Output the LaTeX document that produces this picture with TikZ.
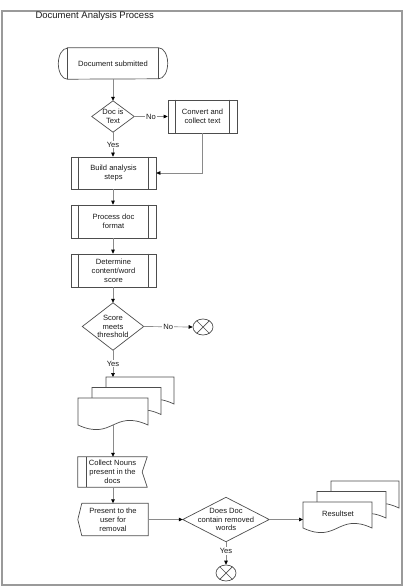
\documentclass[tikz,border=0pt]{standalone}
\usepackage{fontspec}
\setmainfont{Liberation Sans}
\usetikzlibrary{arrows.meta,shapes.geometric}
\definecolor{shapegray}{HTML}{4D4D4D}
\definecolor{linegray}{HTML}{8A8A8A}
\definecolor{framegray}{HTML}{9A9A9A}
\definecolor{inkgray}{HTML}{1A1A1A}
% one sheet of a document stack: left x, right x, top y, bottom y of the wave ends
\newcommand\docsheet[4]{%
  \draw[shape line, fill=white] (#1,#3) -- (#2,#3) -- (#2,#4)
    .. controls ({#2-0.5*(#2-#1)},{#4-16}) and ({#1+0.5*(#2-#1)},{#4+16}) .. (#1,#4) -- cycle;}
\begin{document}
\begin{tikzpicture}[x=1pt,y=-1pt,
  font=\fontsize{7.6}{8.8}\selectfont, text=inkgray,
  shape line/.style={draw=shapegray, line width=0.7pt},
  plain/.style={rectangle, inner sep=0pt, align=center},
  boxnode/.style={plain, shape line, minimum width=85pt, minimum height=33pt},
  flow/.style={draw=linegray, line width=0.7pt, -{Triangle[length=4pt,width=3.6pt,color=black]}},
  lbl/.style={fill=white, inner sep=1pt},
  stopmark/.style={ellipse, shape line, minimum width=20pt, minimum height=16pt, inner sep=0pt},
]
\useasboundingbox (0,0) rectangle (407,588);
\draw[draw=framegray, line width=1.2pt] (2,11) rectangle (402,585);

\node[anchor=west, font=\fontsize{9.5}{11}\selectfont] (title) at (32,16) {Document Analysis Process};

% start terminal with bowed ends
\node[plain, minimum width=91pt, minimum height=31pt] (start) at (113,63.5) {Document submitted};
\draw[shape line] (start.north west) -- (start.north east)
  arc[start angle=90, end angle=-90, x radius=9pt, y radius=15.5pt]
  -- (start.south west)
  arc[start angle=270, end angle=90, x radius=9pt, y radius=15.5pt] -- cycle;
\draw[shape line] (start.north west) -- (start.south west) (start.north east) -- (start.south east);

% decisions (drawn as diamonds over plain boxes)
\node[plain, minimum width=42pt, minimum height=31pt] (isText) at (113,116.5) {Doc is\\Text};
\node[plain, minimum width=61pt, minimum height=47pt] (scoreOk) at (113,326.5) {Score\\meets\\threshold};
\node[plain, minimum width=86pt, minimum height=44pt] (hasRemoved) at (226,519.5) {Does Doc\\contain removed\\words};
\foreach \n in {isText,scoreOk,hasRemoved}
  \draw[shape line] (\n.north) -- (\n.east) -- (\n.south) -- (\n.west) -- cycle;

% predefined processes
\node[boxnode, minimum width=69pt] (convert) at (202.5,116.5) {Convert and\\collect text};
\node[boxnode, minimum height=32pt] (build) at (113.5,173) {Build analysis\\steps};
\node[boxnode] (process) at (113.5,221.5) {Process doc\\format};
\node[boxnode] (determine) at (113.5,270.5) {Determine\\content/word\\score};
\foreach \n in {convert,build,process,determine}
  \draw[shape line] ([xshift=8pt]\n.north west) -- ([xshift=8pt]\n.south west)
                    ([xshift=-8pt]\n.north east) -- ([xshift=-8pt]\n.south east);

% terminators
\node[stopmark] (end1) at (203,327) {};
\node[stopmark] (end2) at (226,573) {};
\foreach \n in {end1,end2}
  \draw[shape line] (\n.45) -- (\n.225) (\n.135) -- (\n.315);

% document stack
\docsheet{106}{174}{377}{404}
\docsheet{92}{161}{387.5}{414.5}
\docsheet{78}{148}{398}{425}
\coordinate (docsTop) at (113,377);
\coordinate (docsBottom) at (113,425);

% collect nouns
\node[plain, minimum width=69pt, minimum height=30pt] (collect) at (112.5,472) {Collect Nouns\\present in the\\docs};
\draw[shape line] (collect.north west) -- (collect.north east) -- ([xshift=-5pt]collect.east)
  -- (collect.south east) -- (collect.south west) -- cycle;
\draw[shape line] ([xshift=9pt]collect.north west) -- ([xshift=9pt]collect.south west);

% display
\node[plain, minimum width=70pt, minimum height=32pt] (present) at (113,519.5) {Present to the\\user for\\removal};
\draw[shape line] ([xshift=4pt]present.north west) -- (present.north east) -- (present.south east)
  -- ([xshift=4pt]present.south west) -- (present.west) -- cycle;

% result stack
\docsheet{331}{399}{481}{508}
\docsheet{317}{386}{491.5}{518}
\docsheet{303}{372}{502}{528}
\node[plain] (result) at (338,514) {Resultset};
\coordinate (resultIn) at (303,519.5);

% connectors
\draw[flow] (start.south) -- (start.south |- isText.north);
\draw[flow] (isText.east) -- node[lbl]{No} (convert.west);
\draw[flow] (convert.south) |- (build.east);
\draw[flow] (isText.south) -- node[lbl]{Yes} (isText.south |- build.north);
\draw[flow] (build.south -| isText.south) -- (isText.south |- process.north);
\draw[flow] (process.south -| isText.south) -- (isText.south |- determine.north);
\draw[flow] (determine.south -| isText.south) -- (scoreOk.north);
\draw[flow] (scoreOk.east) -- node[lbl]{No} (end1.west);
\draw[flow] (scoreOk.south) -- node[lbl]{Yes} (docsTop);
\draw[flow] (docsBottom) -- (docsBottom |- collect.north);
\draw[flow] (collect.south -| docsBottom) -- (docsBottom |- present.north);
\draw[flow] (present.east) -- (hasRemoved.west);
\draw[flow] (hasRemoved.east) -- (resultIn);
\draw[flow] (hasRemoved.south) -- node[lbl,pos=0.4]{Yes} (end2.north);
\end{tikzpicture}
\end{document}
